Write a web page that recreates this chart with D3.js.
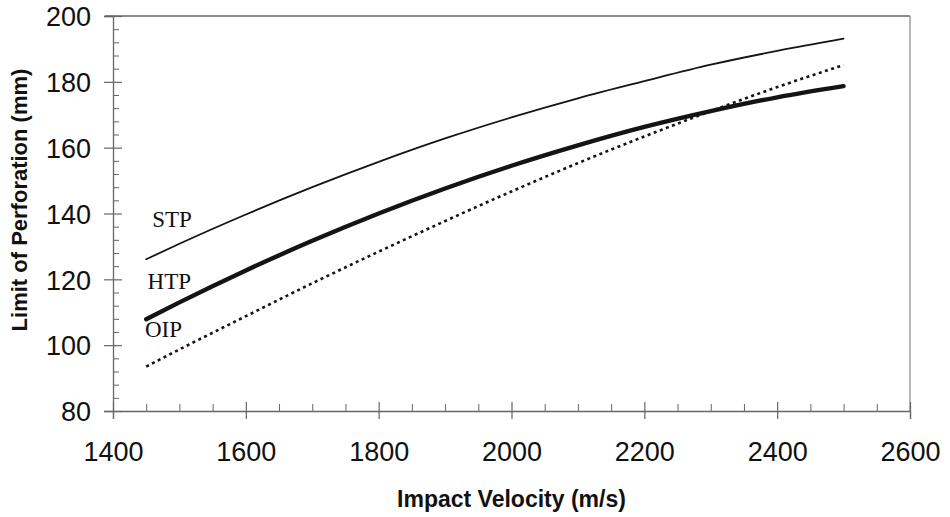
<!DOCTYPE html>
<html>
<head>
<meta charset="utf-8">
<script src="https://cdn.jsdelivr.net/npm/d3@7"></script>
<style>
  html, body { margin: 0; padding: 0; background: #fff; }
  svg { display: block; }
</style>
</head>
<body>
<svg id="chart" width="950" height="517"></svg>
<script>
// ---- Data ----
const velocities = [1450, 1500, 1600, 1700, 1800, 1900, 2000, 2100, 2200, 2300, 2400, 2500];
const stpValues  = [126.1, 130.8, 139.7, 148.0, 155.7, 162.8, 169.2, 175.0, 180.2, 185.2, 189.4, 193.1];
const htpValues  = [107.9, 113.0, 122.7, 131.7, 140.0, 147.6, 154.5, 160.7, 166.3, 171.1, 175.3, 178.7];
const oipValues  = [93.5, 98.7, 108.8, 118.8, 128.4, 137.7, 146.7, 155.3, 163.4, 171.1, 178.4, 185.1];
const seriesNames = ["STP", "HTP", "OIP"];
const xTickValues = [1400, 1600, 1800, 2000, 2200, 2400, 2600];
const yTickValues = [80, 100, 120, 140, 160, 180, 200];
const xMinorTicks = d3.range(1450, 2600, 50).filter(v => v % 200 !== 0);
const yMinorTicks = d3.range(84, 200, 4).filter(v => v % 20 !== 0);
const xTitle = "Impact Velocity (m/s)";
const yTitle = "Limit of Perforation (mm)";

const svg = d3.select("#chart");
const mLeft = 113, mRight = 910, mTop = 16, mBottom = 411;

const x = d3.scaleLinear().domain([1400, 2600]).range([mLeft, mRight]);
const y = d3.scaleLinear().domain([80, 200]).range([mBottom, mTop]);

const axisColor = "#666";

// Frame (top and right)
svg.append("line").attr("x1", mLeft - 8).attr("x2", mRight).attr("y1", y(200)).attr("y2", y(200))
  .attr("stroke", axisColor).attr("stroke-width", 1.3);
svg.append("line").attr("x1", mRight).attr("x2", mRight).attr("y1", y(200)).attr("y2", y(80))
  .attr("stroke", "#888").attr("stroke-width", 1.2);

// X axis
const gx = svg.append("g").attr("transform", `translate(0,${mBottom})`)
  .call(d3.axisBottom(x).tickValues(xTickValues).tickSize(8).tickPadding(0).tickFormat(d3.format("d")));
gx.select(".domain").attr("stroke", axisColor).attr("stroke-width", 1.3);
gx.selectAll(".tick line").attr("y1", -9).attr("stroke", axisColor).attr("stroke-width", 1.2);
gx.selectAll(".tick text").attr("y", 50).attr("dy", 0)
  .attr("font-family", "Liberation Sans, Arial, sans-serif").attr("font-size", 27).attr("fill", "#111");
const gxm = svg.append("g").attr("transform", `translate(0,${mBottom})`)
  .call(d3.axisTop(x).tickValues(xMinorTicks).tickSize(7).tickFormat(""));
gxm.select(".domain").remove();
gxm.selectAll(".tick line").attr("stroke", axisColor).attr("stroke-width", 1);

// Y axis
const gy = svg.append("g").attr("transform", `translate(${mLeft},0)`)
  .call(d3.axisLeft(y).tickValues(yTickValues).tickSize(9).tickPadding(0).tickFormat(d3.format("d")));
gy.select(".domain").attr("stroke", axisColor).attr("stroke-width", 1.3);
gy.selectAll(".tick line").attr("x1", 9).attr("stroke", axisColor).attr("stroke-width", 1.2);
gy.selectAll(".tick text").attr("x", -22).attr("dy", "0.36em")
  .attr("font-family", "Liberation Sans, Arial, sans-serif").attr("font-size", 27).attr("fill", "#111");
const gym = svg.append("g").attr("transform", `translate(${mLeft},0)`)
  .call(d3.axisRight(y).tickValues(yMinorTicks).tickSize(6).tickFormat(""));
gym.select(".domain").remove();
gym.selectAll(".tick line").attr("stroke", axisColor).attr("stroke-width", 1);

// Lines
const line = d3.line().x(d => x(d[0])).y(d => y(d[1])).curve(d3.curveMonotoneX);
const series = [
  { name: seriesNames[0], values: stpValues, width: 1.8, dash: null },
  { name: seriesNames[1], values: htpValues, width: 4.4, dash: null },
  { name: seriesNames[2], values: oipValues, width: 2.6, dash: "3,3.5" }
];
series.forEach(s => {
  svg.append("path")
    .datum(velocities.map((v, i) => [v, s.values[i]]))
    .attr("d", line)
    .attr("fill", "none")
    .attr("stroke", "#141414")
    .attr("stroke-width", s.width)
    .attr("stroke-linecap", s.dash ? "butt" : "round")
    .attr("stroke-dasharray", s.dash);
});

// Series labels
const labelPos = [
  { name: seriesNames[0], v: 1459, val: 135.8 },
  { name: seriesNames[1], v: 1452, val: 117.0 },
  { name: seriesNames[2], v: 1448, val: 102.6 }
];
svg.selectAll(".slabel").data(labelPos).enter().append("text")
  .attr("class", "slabel")
  .attr("x", d => x(d.v)).attr("y", d => y(d.val))
  .attr("font-family", "Liberation Serif, Times New Roman, serif")
  .attr("font-size", 23).attr("fill", "#111")
  .text(d => d.name);

// Axis titles
svg.append("text")
  .attr("x", (mLeft + mRight) / 2).attr("y", 507)
  .attr("text-anchor", "middle")
  .attr("font-family", "Liberation Sans, Arial, sans-serif")
  .attr("font-weight", "bold").attr("font-size", 23).attr("fill", "#111")
  .text(xTitle);
svg.append("text")
  .attr("transform", "translate(27,200) rotate(-90)")
  .attr("text-anchor", "middle")
  .attr("font-family", "Liberation Sans, Arial, sans-serif")
  .attr("font-weight", "bold").attr("font-size", 22).attr("fill", "#111")
  .text(yTitle);
</script>
</body>
</html>
